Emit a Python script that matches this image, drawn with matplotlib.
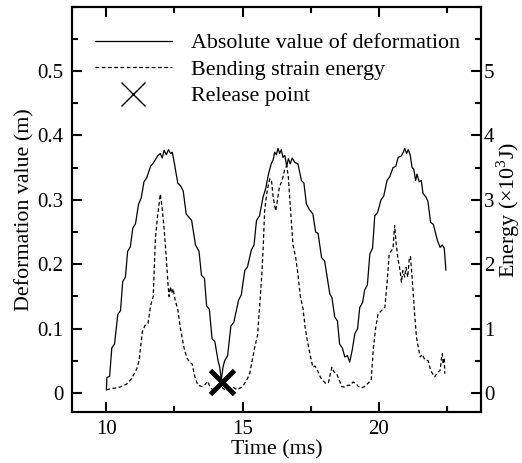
import matplotlib
matplotlib.use("Agg")
import matplotlib.pyplot as plt
from matplotlib.lines import Line2D
from matplotlib.ticker import MultipleLocator, FixedLocator

plt.rcParams['font.family'] = ['Liberation Serif', 'DejaVu Serif']
plt.rcParams['mathtext.fontset'] = 'custom'
plt.rcParams['mathtext.rm'] = 'Liberation Serif'

# Absolute value of deformation (m)
t_def = [10.00, 10.02, 10.12, 10.20, 10.30, 10.42, 10.52, 10.60, 10.70, 10.78, 10.88, 10.97,
         11.07, 11.18, 11.28, 11.38, 11.48, 11.62, 11.72, 11.88, 11.98, 12.05, 12.12, 12.20,
         12.28, 12.36, 12.42, 12.50, 12.62, 12.72, 12.82, 12.93, 13.05, 13.13, 13.27, 13.40,
         13.49, 13.60, 13.68, 13.78, 13.88, 13.98, 14.10, 14.16, 14.22, 14.28, 14.34, 14.45,
         14.57, 14.68, 14.85, 14.95, 15.08, 15.18, 15.32, 15.42, 15.51, 15.62, 15.75, 15.85,
         15.95, 16.05, 16.12, 16.18, 16.24, 16.30, 16.36, 16.42, 16.48, 16.55, 16.62, 16.68,
         16.75, 16.82, 16.92, 17.03, 17.16, 17.25, 17.34, 17.45, 17.58, 17.68, 17.77, 17.90,
         18.01, 18.20, 18.28, 18.38, 18.48, 18.56, 18.66, 18.75, 18.85, 18.93, 19.02, 19.12,
         19.22, 19.30, 19.40, 19.48, 19.58, 19.67, 19.77, 19.85, 19.95, 20.08, 20.18, 20.30,
         20.40, 20.52, 20.62, 20.71, 20.82, 20.90, 20.95, 21.02, 21.08, 21.15, 21.22, 21.28,
         21.35, 21.40, 21.48, 21.56, 21.62, 21.72, 21.80, 21.90, 22.00, 22.15, 22.25, 22.32,
         22.40, 22.46]
deformation = [0.005, 0.024, 0.026, 0.070, 0.076, 0.122, 0.128, 0.173, 0.180, 0.220, 0.227, 0.256,
               0.263, 0.293, 0.303, 0.328, 0.334, 0.352, 0.357, 0.368, 0.372, 0.365, 0.377, 0.370,
               0.378, 0.372, 0.374, 0.356, 0.326, 0.322, 0.314, 0.278, 0.272, 0.268, 0.230, 0.220,
               0.183, 0.178, 0.135, 0.130, 0.084, 0.080, 0.050, 0.040, 0.020, 0.040, 0.050, 0.058,
               0.104, 0.110, 0.144, 0.152, 0.190, 0.196, 0.222, 0.230, 0.268, 0.275, 0.304, 0.318,
               0.340, 0.356, 0.362, 0.374, 0.370, 0.380, 0.372, 0.378, 0.366, 0.369, 0.352, 0.364,
               0.356, 0.365, 0.358, 0.356, 0.330, 0.326, 0.294, 0.285, 0.278, 0.250, 0.248, 0.210,
               0.205, 0.154, 0.148, 0.118, 0.112, 0.076, 0.070, 0.056, 0.058, 0.048, 0.066, 0.092,
               0.100, 0.133, 0.140, 0.160, 0.168, 0.216, 0.225, 0.275, 0.280, 0.300, 0.306, 0.330,
               0.336, 0.350, 0.352, 0.366, 0.368, 0.374, 0.380, 0.372, 0.378, 0.370, 0.350, 0.348,
               0.330, 0.340, 0.328, 0.330, 0.310, 0.305, 0.298, 0.265, 0.262, 0.237, 0.226, 0.230,
               0.225, 0.191]

# Bending strain energy (x10^3 J)
t_energy = [10.00, 10.20, 10.40, 10.55, 10.75, 10.92, 11.05, 11.12, 11.20, 11.32, 11.42, 11.53,
            11.62, 11.72, 11.80, 11.88, 11.98, 12.04, 12.12, 12.20, 12.26, 12.30, 12.35, 12.40,
            12.45, 12.52, 12.62, 12.72, 12.85, 12.95, 13.05, 13.15, 13.25, 13.36, 13.50, 13.62,
            13.72, 13.80, 13.90, 14.05, 14.20, 14.35, 14.50, 14.65, 14.80, 15.00, 15.15, 15.26,
            15.44, 15.55, 15.63, 15.70, 15.75, 15.81, 15.87, 15.93, 16.00, 16.06, 16.12, 16.18,
            16.22, 16.28, 16.35, 16.45, 16.55, 16.62, 16.68, 16.75, 16.85, 16.95, 17.03, 17.12,
            17.22, 17.30, 17.40, 17.50, 17.58, 17.65, 17.72, 17.85, 17.95, 18.05, 18.15, 18.22,
            18.28, 18.35, 18.45, 18.55, 18.63, 18.75, 18.85, 18.95, 19.05, 19.15, 19.25, 19.35,
            19.48, 19.60, 19.72, 19.80, 19.88, 19.97, 20.10, 20.22, 20.30, 20.38, 20.46, 20.52,
            20.58, 20.64, 20.71, 20.78, 20.83, 20.88, 20.95, 21.00, 21.06, 21.12, 21.16, 21.22,
            21.30, 21.38, 21.45, 21.52, 21.60, 21.68, 21.81, 21.90, 22.00, 22.05, 22.15, 22.25,
            22.30, 22.33, 22.36, 22.40, 22.42]
energy = [0.05, 0.07, 0.08, 0.10, 0.14, 0.22, 0.32, 0.38, 0.50, 0.95, 1.05, 1.08,
          1.35, 1.50, 2.40, 2.75, 3.09, 2.90, 2.55, 2.10, 1.70, 1.50, 1.65, 1.55,
          1.62, 1.45, 1.30, 1.00, 0.70, 0.55, 0.48, 0.45, 0.25, 0.12, 0.10, 0.13,
          0.18, 0.10, 0.05, 0.08, 0.10, 0.05, 0.08, 0.09, 0.05, 0.10, 0.20, 0.30,
          0.70, 0.90, 1.38, 1.80, 2.21, 2.83, 3.05, 3.20, 3.33, 3.30, 3.05, 2.90,
          2.83, 3.00, 3.20, 3.30, 3.48, 3.53, 3.35, 2.90, 2.30, 2.10, 1.85, 1.50,
          1.30, 1.00, 0.76, 0.55, 0.40, 0.42, 0.38, 0.25, 0.19, 0.15, 0.16, 0.30,
          0.40, 0.33, 0.30, 0.20, 0.10, 0.09, 0.12, 0.12, 0.17, 0.15, 0.10, 0.08,
          0.10, 0.15, 0.20, 0.70, 1.00, 1.23, 1.28, 1.33, 1.70, 2.16, 2.21, 2.25,
          2.60, 2.30, 2.06, 1.90, 1.72, 1.90, 1.80, 1.95, 1.80, 2.10, 2.12, 1.80,
          1.30, 0.87, 0.70, 0.56, 0.60, 0.52, 0.50, 0.35, 0.28, 0.25, 0.32, 0.35,
          0.55, 0.61, 0.45, 0.55, 0.30]

release_t = [14.24]
release_def = [0.017]

legend_labels = ["Absolute value of deformation", "Bending strain energy", "Release point"]

FS_TICK = 15
FS_LAB = 15.8
fig = plt.figure(figsize=(5.22, 4.63), dpi=100)
ax = fig.add_axes([0.1385, 0.1095, 0.783, 0.876])
ax2 = ax.twinx()

ax.plot(t_def, deformation, color='black', lw=0.9, ls='-')
ax2.plot(t_energy, energy, color='black', lw=0.9, ls=(0, (3, 2)))
ax.plot(release_t, release_def, ls='none', marker='x', color='black', ms=17, mew=3.5, zorder=5)

ax.set_xlim(8.75, 23.75)
ax.set_ylim(-0.03, 0.6)
ax2.set_ylim(-0.3, 6.0)

ax.xaxis.set_major_locator(FixedLocator([10, 15, 20]))
ax.xaxis.set_minor_locator(FixedLocator([12.5, 17.5, 22.5]))
ax.yaxis.set_major_locator(FixedLocator([0, 0.1, 0.2, 0.3, 0.4, 0.5]))
ax.yaxis.set_minor_locator(MultipleLocator(0.05))
ax.set_yticklabels(['0', '0.1', '0.2', '0.3', '0.4', '0.5'])
ax2.yaxis.set_major_locator(FixedLocator([0, 1, 2, 3, 4, 5]))
ax2.yaxis.set_minor_locator(MultipleLocator(0.5))

for a in (ax, ax2):
    for s in a.spines.values():
        s.set_linewidth(1.5)
ax.tick_params(which='both', direction='in', top=True, labelsize=FS_TICK, width=1.5)
ax.tick_params(which='major', length=7)
ax.tick_params(which='minor', length=4)
ax.tick_params(axis='y', which='both', right=False, pad=6.5)
ax.tick_params(axis='x', which='both', pad=5.5)
ax2.tick_params(which='both', direction='in', labelsize=FS_TICK, width=1.5, pad=2)
ax2.tick_params(which='major', length=7)
ax2.tick_params(which='minor', length=4)

ax.set_xlabel("Time (ms)", fontsize=FS_LAB, labelpad=1)
ax.set_ylabel("Deformation value (m)", fontsize=FS_LAB, labelpad=2)
ax2.set_ylabel("Energy (\u00d710$^{3}$J)", fontsize=FS_LAB, labelpad=0)

handles = [Line2D([], [], color='black', lw=0.9),
           Line2D([], [], color='black', lw=0.9, ls=(0, (3, 2))),
           Line2D([], [], color='black', ls='none', marker='x', ms=17, mew=1.0)]
ax.legend(handles, legend_labels, loc='upper left', bbox_to_anchor=(0.055, 0.935),
          frameon=False, fontsize=FS_LAB, handlelength=3.5, handletextpad=0.9,
          labelspacing=0.28, borderaxespad=0, borderpad=0)

fig.savefig("out.png", dpi=100)
